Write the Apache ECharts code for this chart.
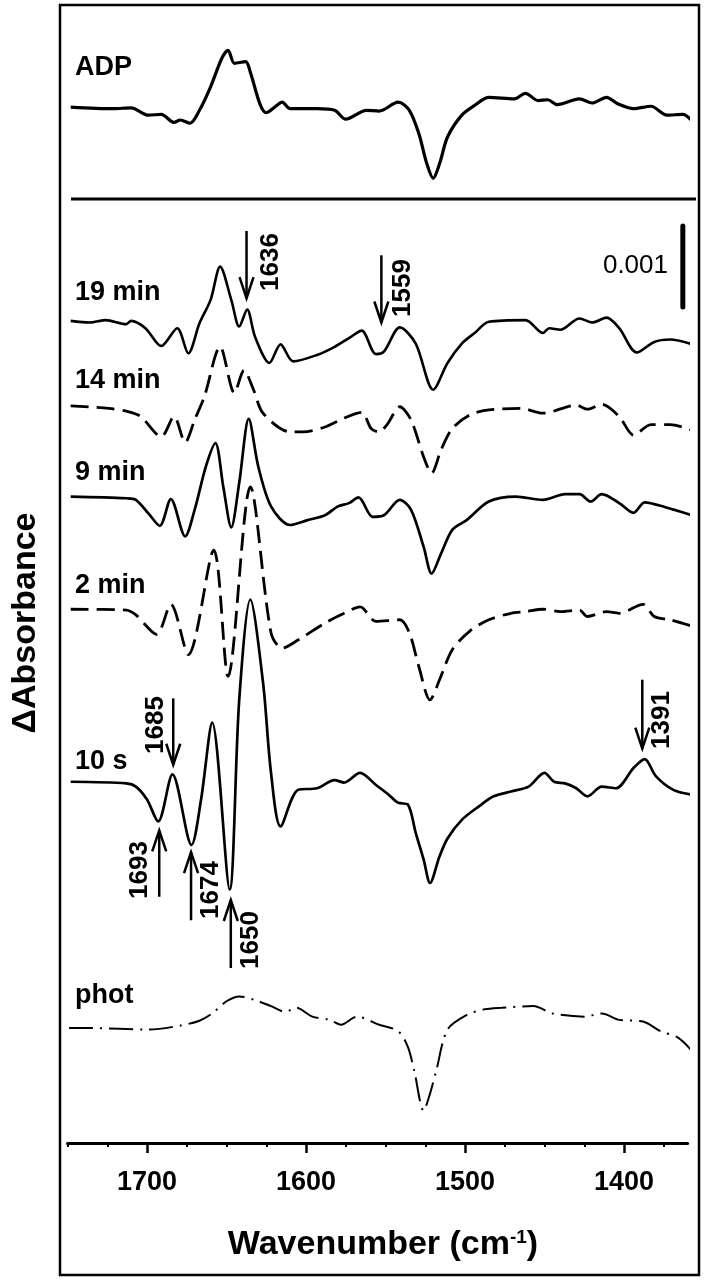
<!DOCTYPE html>
<html lang="en">
<head>
    <meta charset="UTF-8">
    <title>Difference spectra</title>
    <style>
        html, body { margin: 0; padding: 0; background: #fff; }
        #chart { width: 706px; height: 1280px; }
    </style>
</head>
<body>
<div id="chart"></div>
<script src="https://cdn.jsdelivr.net/npm/echarts@6.0.0/dist/echarts.min.js"></script>
<script>
    // wavenumber (cm-1), delta absorbance in units of 0.001 relative to each trace's left end
    var adp = [[1748, 0], [1721, -0.02], [1710, -0.01], [1699, -0.10], [1691, -0.09], [1683, -0.19], [1679, -0.16], [1673, -0.20],
        [1667, -0.04], [1660, 0.25], [1653, 0.60], [1649, 0.70], [1645, 0.54], [1638, 0.56], [1635, 0.43], [1629, 0.04],
        [1625, -0.07], [1619, 0.01], [1615, 0.06], [1610, -0.02], [1593, -0.02], [1582, -0.04], [1575, -0.15], [1562, -0.04],
        [1554, -0.05], [1542, 0.06], [1535, -0.04], [1529, -0.33], [1524, -0.70], [1520, -0.88], [1516, -0.70], [1511, -0.37],
        [1502, -0.10], [1494, 0.02], [1485, 0.12], [1469, 0.10], [1462, 0.17], [1454, 0.08], [1448, 0.09], [1442, 0.03],
        [1428, 0.10], [1420, 0.05], [1411, 0.12], [1404, 0.04], [1394, -0.02], [1383, 0.01], [1373, -0.10], [1363, -0.09], [1356, -0.20]];
    var min19 = [[1748, 0], [1736, -0.02], [1726, 0.01], [1713, -0.04], [1710, 0], [1701, -0.09], [1691, -0.31], [1681, -0.09],
        [1674, -0.40], [1667, -0.03], [1660, 0.26], [1654, 0.67], [1647, 0.26], [1642, -0.07], [1637, 0.14], [1632, -0.20],
        [1623, -0.52], [1616, -0.29], [1608, -0.50], [1593, -0.42], [1582, -0.32], [1572, -0.20], [1565, -0.12], [1556, -0.41],
        [1551, -0.38], [1541, -0.08], [1531, -0.28], [1520, -0.85], [1511, -0.52], [1502, -0.28], [1494, -0.15], [1485, -0.01],
        [1462, 0.01], [1451, -0.15], [1447, -0.09], [1440, -0.11], [1428, 0.03], [1420, -0.02], [1411, 0.04], [1403, -0.09],
        [1392, -0.39], [1381, -0.26], [1371, -0.23], [1357, -0.29]];
    var min14 = [[1748, 0], [1724, -0.03], [1712, -0.07], [1704, -0.13], [1691, -0.38], [1683, -0.13], [1676, -0.45], [1670, -0.17],
        [1664, 0.11], [1654, 0.73], [1645, 0.16], [1639, 0.44], [1633, 0.20], [1627, -0.09], [1610, -0.32], [1602, -0.32],
        [1588, -0.26], [1576, -0.15], [1565, -0.08], [1559, -0.28], [1554, -0.32], [1549, -0.23], [1541, -0.01], [1534, -0.17],
        [1526, -0.63], [1521, -0.83], [1515, -0.54], [1508, -0.28], [1497, -0.11], [1485, -0.05], [1465, -0.03], [1451, -0.09],
        [1430, 0.01], [1423, -0.04], [1414, 0.02], [1403, -0.13], [1394, -0.36], [1383, -0.23], [1371, -0.23], [1357, -0.30]];
    var min9 = [[1748, 0], [1713, -0.02], [1707, -0.04], [1699, -0.21], [1692, -0.36], [1685, -0.03], [1676, -0.49], [1670, -0.16],
        [1663, 0.37], [1657, 0.66], [1652, 0.12], [1647, -0.38], [1642, 0.17], [1636, 0.96], [1630, 0.37], [1622, -0.12],
        [1610, -0.35], [1599, -0.29], [1588, -0.23], [1580, -0.12], [1573, -0.08], [1567, -0.01], [1558, -0.25], [1551, -0.23],
        [1541, -0.04], [1534, -0.16], [1526, -0.62], [1521, -0.95], [1515, -0.70], [1508, -0.41], [1499, -0.29], [1485, -0.06],
        [1468, 0], [1451, -0.04], [1437, 0.03], [1428, 0.03], [1421, -0.06], [1414, 0.03], [1403, -0.08], [1394, -0.20],
        [1387, -0.07], [1374, -0.13], [1357, -0.23]];
    var min2 = [[1748, 0], [1713, -0.01], [1707, -0.07], [1694, -0.31], [1685, 0.06], [1674, -0.56], [1658, 0.73], [1649, -0.83],
        [1635, 1.51], [1622, -0.29], [1615, -0.48], [1605, -0.38], [1588, -0.17], [1576, -0.05], [1566, 0.03], [1556, -0.15],
        [1541, -0.13], [1535, -0.29], [1529, -0.71], [1522, -1.12], [1516, -0.87], [1508, -0.50], [1497, -0.27], [1485, -0.13],
        [1471, -0.05], [1462, -0.03], [1451, 0], [1440, -0.03], [1428, -0.01], [1423, -0.09], [1411, -0.03], [1403, -0.05],
        [1388, 0.06], [1381, -0.09], [1371, -0.13], [1357, -0.21]];
    var sec10 = [[1748, 0], [1713, -0.02], [1707, -0.06], [1700, -0.22], [1693, -0.49], [1684, 0.09], [1672, -0.78], [1666, -0.22],
        [1659, 0.73], [1648, -1.33], [1642, 1.01], [1635, 2.25], [1627, 1.22], [1622, 0.11], [1616, -0.55], [1605, -0.10],
        [1593, -0.08], [1582, 0.02], [1576, -0.01], [1566, 0.11], [1556, -0.04], [1548, -0.16], [1542, -0.26], [1536, -0.28],
        [1531, -0.63], [1526, -0.96], [1522, -1.25], [1516, -0.92], [1511, -0.70], [1502, -0.47], [1491, -0.30], [1482, -0.18],
        [1471, -0.12], [1460, -0.06], [1450, 0.11], [1444, 0], [1437, -0.02], [1430, -0.08], [1423, -0.18], [1414, -0.06],
        [1405, -0.08], [1394, 0.17], [1387, 0.28], [1380, 0.07], [1369, -0.10], [1357, -0.16]];
    var phot = [[1749, 0], [1736, 0], [1699, -0.02], [1679, 0.03], [1667, 0.09], [1659, 0.18], [1650, 0.33], [1642, 0.39],
        [1633, 0.35], [1622, 0.27], [1613, 0.20], [1606, 0.25], [1596, 0.14], [1585, 0.10], [1578, 0.04], [1568, 0.14],
        [1554, 0.04], [1542, -0.04], [1536, -0.23], [1532, -0.52], [1526, -1.02], [1522, -0.81], [1518, -0.52], [1511, -0.02],
        [1499, 0.16], [1488, 0.23], [1477, 0.25], [1457, 0.27], [1445, 0.18], [1425, 0.14], [1414, 0.18], [1403, 0.10],
        [1388, 0.08], [1377, -0.04], [1366, -0.12], [1357, -0.29]];

    var traceNames = ['ADP', '19 min', '14 min', '9 min', '2 min', '10 s', 'phot'];
    var traces = [adp, min19, min14, min9, min2, sec10, phot];
    var traceOffsets = [12.79, 10.15, 9.10, 7.98, 6.59, 4.46, 1.42];

    // marked bands: wavenumber, arrow start, arrow tip (same units as the traces, stacked)
    var arrowWn = [1637.4, 1552.6, 1683.5, 1388.5, 1692.3, 1672.3, 1647.3];
    var arrowFrom = [11.26, 10.96, 5.49, 5.72, 3.04, 2.75, 2.16];
    var arrowTo = [10.43, 10.13, 4.67, 4.87, 3.86, 3.59, 3.00];
    var arrowText = ['1636', '1559', '1685', '1391', '1693', '1674', '1650'];

    var majorTicks = [1400, 1500, 1600, 1700];
    var minorTicks = [1375, 1425, 1450, 1475, 1525, 1550, 1575, 1625, 1650, 1675, 1725, 1750];

    var FONT = '"Liberation Sans", Arial, Helvetica, sans-serif';
    var lineTypes = ['solid', 'solid', [18, 8], 'solid', [18, 8], 'solid', [24, 7, 2, 7]];
    var lineWidths = [3.2, 2.6, 2.8, 2.7, 2.8, 2.7, 2];
    var labelY = [68, 293, 381, 473, 586, 762, 996];
    var arrowLabelPos = [[271, 262], [403, 288], [156, 725], [662, 720], [140, 870], [211, 890], [251, 940]];

    var chart = echarts.init(document.getElementById('chart'), null, {renderer: 'canvas'});

    var series = [];
    for (var i = 0; i < traces.length; i++) {
        var off = traceOffsets[i];
        series.push({
            name: traceNames[i],
            type: 'line',
            data: traces[i].map(function (p) { return [p[0], p[1] + off]; }),
            showSymbol: false,
            symbol: 'none',
            smooth: 0.3,
            clip: false,
            lineStyle: {color: '#000', width: lineWidths[i], type: lineTypes[i]}
        });
    }

    var arrows = [];
    for (var k = 0; k < arrowWn.length; k++) {
        arrows.push([arrowWn[k], arrowFrom[k], arrowTo[k]]);
    }
    series.push({
        type: 'custom',
        clip: false,
        data: arrows,
        encode: {x: 0, y: [1, 2]},
        renderItem: function (params, api) {
            var p0 = api.coord([api.value(0), api.value(1)]);
            var p1 = api.coord([api.value(0), api.value(2)]);
            var dir = p1[1] > p0[1] ? 1 : -1;
            var hl = 21, hw = 7;
            return {
                type: 'group',
                children: [
                    {type: 'line', shape: {x1: p0[0], y1: p0[1], x2: p1[0], y2: p1[1]},
                        style: {stroke: '#000', lineWidth: 2.5}},
                    {type: 'polyline', shape: {points: [[p1[0] - hw, p1[1] - dir * hl], [p1[0], p1[1]], [p1[0] + hw, p1[1] - dir * hl]]},
                        style: {stroke: '#000', fill: null, lineWidth: 2.5}}
                ]
            };
        }
    });

    // 0.001 scale bar
    series.push({
        type: 'custom',
        clip: false,
        data: [[1363, 10.32, 11.32]],
        encode: {x: 0, y: [1, 2]},
        renderItem: function (params, api) {
            var p0 = api.coord([api.value(0), api.value(1)]);
            var p1 = api.coord([api.value(0), api.value(2)]);
            return {type: 'line', shape: {x1: p0[0], y1: p0[1], x2: p1[0], y2: p1[1]},
                style: {stroke: '#000', lineWidth: 5, lineCap: 'round'}};
        }
    });

    var graphics = [
        {type: 'rect', shape: {x: 60, y: 5, width: 639, height: 1270}, style: {fill: null, stroke: '#000', lineWidth: 2.5}},
        {type: 'line', shape: {x1: 71, y1: 199, x2: 696, y2: 199}, style: {stroke: '#000', lineWidth: 3}},
        {type: 'text', x: 668, y: 266, style: {text: '0.001', font: '26px ' + FONT, fill: '#000', textAlign: 'right', textVerticalAlign: 'middle'}},
        {type: 'text', x: 26, y: 623, rotation: Math.PI / 2,
            style: {text: 'ΔAbsorbance', font: 'bold 34px ' + FONT, fill: '#000', textAlign: 'center', textVerticalAlign: 'middle'}},
        {type: 'text', x: 383, y: 1245,
            style: {
                text: '{t|Wavenumber (cm}{s|-1}{t|)}', textAlign: 'center', textVerticalAlign: 'middle',
                rich: {
                    t: {font: 'bold 34px ' + FONT, fill: '#000', verticalAlign: 'bottom'},
                    s: {font: 'bold 19px ' + FONT, fill: '#000', verticalAlign: 'top'}
                }
            }}
    ];
    for (var j = 0; j < traceNames.length; j++) {
        graphics.push({type: 'text', x: 75, y: labelY[j],
            style: {text: traceNames[j], font: 'bold 27px ' + FONT, fill: '#000', textAlign: 'left', textVerticalAlign: 'middle'}});
    }
    for (var m = 0; m < arrowText.length; m++) {
        graphics.push({type: 'text', x: arrowLabelPos[m][0], y: arrowLabelPos[m][1], rotation: Math.PI / 2,
            style: {text: arrowText[m], font: 'bold 26px ' + FONT, fill: '#000', textAlign: 'center', textVerticalAlign: 'middle'}});
    }

    chart.setOption({
        animation: false,
        backgroundColor: '#fff',
        grid: {left: 67.5, right: 18.4, top: 5, bottom: 137, containLabel: false},
        xAxis: [{
            type: 'value', min: 1360, max: 1750, inverse: true, position: 'bottom',
            axisLine: {onZero: false, lineStyle: {color: '#000', width: 3}},
            axisTick: {customValues: majorTicks, length: 10, lineStyle: {color: '#000', width: 2.5}},
            axisLabel: {
                customValues: majorTicks, margin: 26, color: '#000', fontSize: 27, fontWeight: 'bold', fontFamily: FONT,
                formatter: function (v) { return String(v); }
            },
            splitLine: {show: false}
        }, {
            type: 'value', min: 1360, max: 1750, inverse: true, position: 'bottom',
            axisLine: {show: false, onZero: false},
            axisTick: {customValues: minorTicks, length: 4, lineStyle: {color: '#000', width: 2}},
            axisLabel: {show: false},
            splitLine: {show: false}
        }],
        yAxis: {type: 'value', min: 0, max: 14.05, show: false},
        graphic: graphics,
        series: series
    });
</script>
</body>
</html>
